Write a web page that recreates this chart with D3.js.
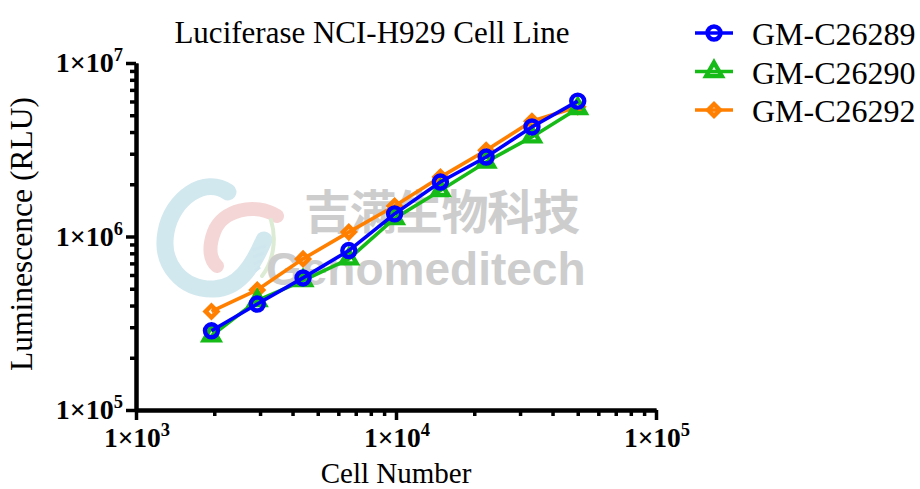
<!DOCTYPE html>
<html>
<head>
<meta charset="utf-8">
<script src="https://cdn.jsdelivr.net/npm/d3@7"></script>
<style>
  body { margin: 0; background: #fff; }
  svg { display: block; }
  text { font-family: "Liberation Serif", "Times New Roman", serif; }
</style>
</head>
<body>
<div id="chart"></div>
<script>
/* Luciferase NCI-H929 luminescence vs cell number */

const cellNumbers = [1951, 2926, 4390, 6584, 9877, 14815, 22222, 33333, 50000]
const seriesNames = ['GM-C26289', 'GM-C26290', 'GM-C26292']
const rluC26289 = [2.86e5, 4.08e5, 5.77e5, 8.30e5, 1.35e6, 2.06e6, 2.87e6, 4.28e6, 6.03e6]
const rluC26290 = [2.68e5, 4.27e5, 5.57e5, 7.43e5, 1.27e6, 1.84e6, 2.69e6, 3.75e6, 5.47e6]
const rluC26292 = [3.70e5, 4.92e5, 7.43e5, 1.06e6, 1.50e6, 2.20e6, 3.14e6, 4.62e6, 5.59e6]
const xMajorTicks = [1e3, 1e4, 1e5]
const yMajorTicks = [1e5, 1e6, 1e7]

const width = 920, height = 489
const colors = { 'GM-C26289': '#0000ff', 'GM-C26290': '#17bb17', 'GM-C26292': '#ff7f00' }

const series = [
  { name: seriesNames[2], values: rluC26292, shape: 'diamond' },
  { name: seriesNames[1], values: rluC26290, shape: 'triangle' },
  { name: seriesNames[0], values: rluC26289, shape: 'circle' }
]

const svg = d3.select('#chart').append('svg')
  .attr('width', width)
  .attr('height', height)

const x = d3.scaleLog().domain([1e3, 1e5]).range([136, 656])
const y = d3.scaleLog().domain([1e5, 1e7]).range([410, 63])

// minor tick values 2..9 of each decade
const minors = (lo, hi) => {
  let out = []
  for (let d = lo; d < hi; d *= 10)
    for (let k = 2; k <= 9; k++) out.push(k * d)
  return out
}

// watermark (behind data)
const wm = svg.append('g').attr('class', 'watermark')
wm.append('path')
  .attr('d', 'M228,192 C205,176 172,198 166,232 C160,264 182,290 214,289 C238,288 252,268 264,240')
  .attr('fill', 'none').attr('stroke', '#d2e8ef').attr('stroke-width', 17)
  .attr('stroke-linecap', 'round')
wm.append('path')
  .attr('d', 'M277,216 C255,202 222,210 214,232 C208,248 210,260 217,266')
  .attr('fill', 'none').attr('stroke', '#f5d6d6').attr('stroke-width', 14)
  .attr('stroke-linecap', 'round')
wm.append('path')
  .attr('d', 'M271,220 C277,240 273,262 262,276')
  .attr('fill', 'none').attr('stroke', '#dcebd3').attr('stroke-width', 4)
  .attr('stroke-linecap', 'round')
wm.selectAll('line.stripe')
  .data([0, 1, 2, 3])
  .join('line')
  .attr('class', 'stripe')
  .attr('x1', d => 252 + d * 1).attr('y1', d => 250 + d * 7)
  .attr('x2', d => 266 - d * 2).attr('y2', d => 246 + d * 7)
  .attr('stroke', '#cfe6ee').attr('stroke-width', 3)
wm.append('text')
  .attr('x', 304).attr('y', 229)
  .attr('textLength', 276)
  .style('font-family', '"Noto Sans CJK SC", sans-serif')
  .style('font-weight', 'bold')
  .style('font-size', '47px')
  .attr('fill', '#cdcdcd')
  .text('吉满生物科技')
wm.append('text')
  .attr('x', 266).attr('y', 285)
  .style('font-family', '"Liberation Sans", Arial, sans-serif')
  .style('font-weight', 'bold')
  .style('font-size', '46px')
  .attr('fill', '#cdcdcd')
  .text('Genomeditech')

// axes
const xMinorAxis = d3.axisBottom(x).tickValues(minors(1e3, 1e5)).tickSize(6).tickSizeOuter(0).tickFormat('')
const xMajorAxis = d3.axisBottom(x).tickValues(xMajorTicks).tickSize(10).tickSizeOuter(0).tickFormat('')
const yMinorAxis = d3.axisLeft(y).tickValues(minors(1e5, 1e7)).tickSize(6).tickSizeOuter(0).tickFormat('')
const yMajorAxis = d3.axisLeft(y).tickValues(yMajorTicks).tickSize(10).tickSizeOuter(0).tickFormat('')

const styleAxis = g => {
  g.select('.domain').attr('stroke', '#000').attr('stroke-width', 4)
  g.selectAll('.tick line').attr('stroke', '#000').attr('stroke-width', 3.5)
}

svg.append('g').attr('transform', 'translate(0,410)').call(xMinorAxis).call(styleAxis)
svg.append('g').attr('transform', 'translate(0,410)').call(xMajorAxis).call(styleAxis)
svg.append('g').attr('transform', 'translate(136,0)').call(yMinorAxis).call(styleAxis)
svg.append('g').attr('transform', 'translate(136,0)').call(yMajorAxis).call(styleAxis)

const expLabel = (sel, v) => {
  sel.append('tspan').text('1×10')
  sel.append('tspan')
    .attr('dy', -11)
    .style('font-size', '18.5px')
    .text(Math.round(Math.log10(v)))
}

svg.append('g').selectAll('text')
  .data(xMajorTicks)
  .join('text')
  .attr('x', d => x(d) + 1)
  .attr('y', 447)
  .attr('text-anchor', 'middle')
  .style('font-size', '27.5px')
  .style('font-weight', 'bold')
  .each(function (d) { expLabel(d3.select(this), d) })

svg.append('g').selectAll('text')
  .data(yMajorTicks)
  .join('text')
  .attr('x', 123)
  .attr('y', d => y(d) + 9)
  .attr('text-anchor', 'end')
  .style('font-size', '28px')
  .style('font-weight', 'bold')
  .each(function (d) { expLabel(d3.select(this), d) })

// titles
svg.append('text')
  .attr('x', 372).attr('y', 43)
  .attr('text-anchor', 'middle')
  .style('font-size', '31px')
  .text('Luciferase NCI-H929 Cell Line')

svg.append('text')
  .attr('x', 396).attr('y', 483)
  .attr('text-anchor', 'middle')
  .style('font-size', '29px')
  .text('Cell Number')

svg.append('text')
  .attr('transform', 'translate(32,234) rotate(-90)')
  .attr('text-anchor', 'middle')
  .style('font-size', '31.5px')
  .text('Luminescence (RLU)')

// markers
const drawMarker = (g, shape, color) => {
  if (shape === 'circle') {
    g.append('circle').attr('r', 6.5)
  } else if (shape === 'triangle') {
    g.append('path').attr('d', d3.symbol(d3.symbolTriangle, 105)())
  } else {
    g.append('path').attr('d', d3.symbol(d3.symbolSquare, 70)()).attr('transform', 'rotate(45)')
  }
  g.selectAll('circle, path')
    .attr('fill', 'none')
    .attr('stroke', color)
    .attr('stroke-width', 4.4)
}

const line = d3.line()
  .x(d => x(d[0]))
  .y(d => y(d[1]))

const plot = svg.append('g').attr('class', 'plot')
series.forEach(s => {
  const pts = cellNumbers.map((c, i) => [c, s.values[i]])
  const g = plot.append('g')
  g.append('path')
    .datum(pts)
    .attr('d', line)
    .attr('fill', 'none')
    .attr('stroke', colors[s.name])
    .attr('stroke-width', 3.6)
  g.selectAll('g.pt')
    .data(pts)
    .join('g')
    .attr('class', 'pt')
    .attr('transform', d => `translate(${x(d[0])},${y(d[1])})`)
    .each(function () { drawMarker(d3.select(this), s.shape, colors[s.name]) })
})

// legend
const legend = svg.append('g').attr('class', 'legend')
const legendRows = [seriesNames[0], seriesNames[1], seriesNames[2]]
const legendShapes = { 'GM-C26289': 'circle', 'GM-C26290': 'triangle', 'GM-C26292': 'diamond' }
legendRows.forEach((name, i) => {
  const cy = 33 + i * 38.5
  legend.append('line')
    .attr('x1', 695).attr('x2', 733)
    .attr('y1', cy).attr('y2', cy)
    .attr('stroke', colors[name])
    .attr('stroke-width', 3.6)
  const m = legend.append('g').attr('transform', `translate(714,${cy})`)
  drawMarker(m, legendShapes[name], colors[name])
  legend.append('text')
    .attr('x', 752).attr('y', cy + 12)
    .style('font-size', '32px')
    .text(name)
})
</script>
</body>
</html>
